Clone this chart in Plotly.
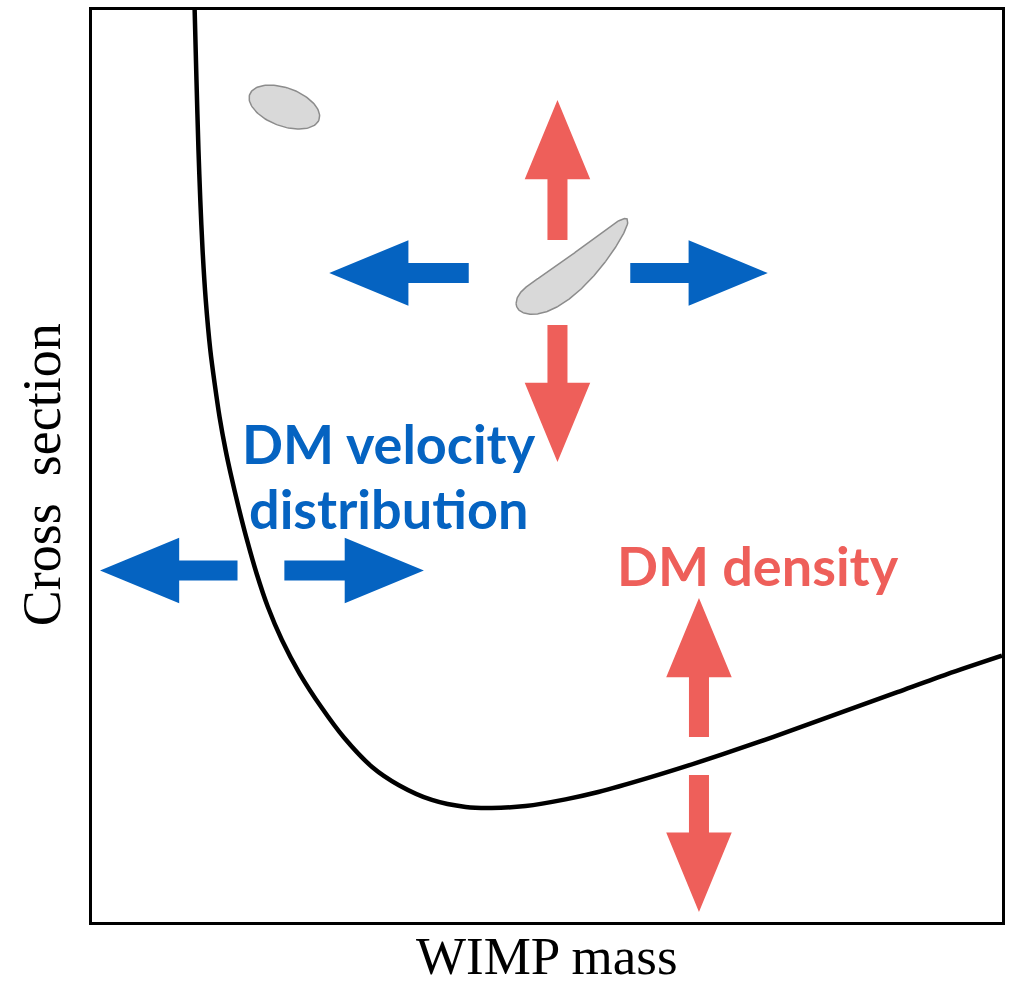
import numpy as np
import plotly.graph_objects as go

# ---- data (arbitrary units, 0-100 on both axes) ----
curve_x = [11.28, 11.48, 11.70, 11.90, 12.15, 12.50, 13.00, 13.47, 14.02, 14.68, 15.22,
           16.10, 17.03, 18.07, 19.33, 20.87, 22.78, 25.19, 27.71, 30.78, 33.73, 37.35,
           41.07, 43.92, 47.65, 52.03, 55.64, 61.12, 66.59, 72.07, 77.55, 83.02, 88.50,
           93.98, 100.0]
curve_y = [100.0, 92.32, 84.65, 79.17, 73.68, 68.20, 62.72, 59.10, 55.37, 51.75, 49.23,
           45.50, 41.89, 38.27, 34.54, 30.92, 27.30, 23.57, 20.20, 17.00, 15.00, 13.38,
           12.61, 12.50, 12.72, 13.45, 14.25, 15.80, 17.50, 19.33, 21.25, 23.22, 25.20,
           27.18, 29.20]

# arrows: (tail_x, tail_y, tip_x, tip_y)
blue_arrows = [
    (41.40, 71.16, 26.07, 71.16),
    (59.15, 71.16, 74.26, 71.16),
    (15.99, 38.54, 0.88, 38.54),
    (21.14, 38.54, 36.47, 38.54),
]
red_arrows = [
    (51.15, 74.78, 51.15, 90.13),
    (51.15, 65.46, 51.15, 50.44),
    (66.70, 20.29, 66.70, 35.53),
    (66.70, 16.12, 66.70, 1.10),
]

BLUE = "#0563C1"
RED = "#EE5F5A"
SHAFT_HW = 1.1
HEAD_HW = 3.6
HEAD_LEN = 8.7


def arrow_poly(tx, ty, hx, hy):
    d = np.array([hx - tx, hy - ty], float)
    L = np.hypot(*d)
    u = d / L
    n = np.array([-u[1], u[0]])
    t = np.array([tx, ty], float)
    h = np.array([hx, hy], float)
    b = h - u * HEAD_LEN
    pts = [t + n * SHAFT_HW, b + n * SHAFT_HW, b + n * HEAD_HW, h,
           b - n * HEAD_HW, b - n * SHAFT_HW, t - n * SHAFT_HW, t + n * SHAFT_HW]
    pts = np.array(pts)
    return pts[:, 0], pts[:, 1]


fig = go.Figure()

# blobs
# small ellipse top-left
cx, cy, a, b, ang = 21.14, 89.36, 4.05, 2.1, np.deg2rad(-20)
th = np.linspace(0, 2 * np.pi, 120)
ex = cx + a * np.cos(th) * np.cos(ang) - b * np.sin(th) * np.sin(ang)
ey = cy + a * np.cos(th) * np.sin(ang) + b * np.sin(th) * np.cos(ang)
fig.add_trace(go.Scatter(x=ex, y=ey, mode="lines", fill="toself", fillcolor="#D9D9D9",
                         line=dict(color="#8C8C8C", width=1.5), hoverinfo="skip"))

# banana-shaped blob
P0 = np.array([46.6, 67.8]); P1 = np.array([51.0, 68.0]); P2 = np.array([58.8, 77.1])
HW = 2.2
t = np.linspace(0, 1, 160)
cl = ((1 - t) ** 2)[:, None] * P0 + (2 * (1 - t) * t)[:, None] * P1 + (t ** 2)[:, None] * P2
dcl = (2 * (1 - t))[:, None] * (P1 - P0) + (2 * t)[:, None] * (P2 - P1)
nrm = np.stack([-dcl[:, 1], dcl[:, 0]], axis=1)
nrm /= np.linalg.norm(nrm, axis=1)[:, None]
w = HW * np.clip(1 - (2 * t - 1) ** 2, 0, 1) ** 0.5 * (1.0 - 0.3 * t)
upper = cl + nrm * w[:, None]
lower = cl - nrm * w[:, None]
bx = np.concatenate([upper[:, 0], lower[::-1, 0], upper[:1, 0]])
by = np.concatenate([upper[:, 1], lower[::-1, 1], upper[:1, 1]])
fig.add_trace(go.Scatter(x=bx, y=by, mode="lines", fill="toself", fillcolor="#D9D9D9",
                         line=dict(color="#8C8C8C", width=1.5), hoverinfo="skip"))

# exclusion curve
fig.add_trace(go.Scatter(x=curve_x, y=curve_y, mode="lines",
                         line=dict(color="black", width=4.5, shape="spline", smoothing=0.8),
                         hoverinfo="skip"))

for arr in blue_arrows:
    px, py = arrow_poly(*arr)
    fig.add_trace(go.Scatter(x=px, y=py, mode="lines", fill="toself", fillcolor=BLUE,
                             line=dict(width=0, color=BLUE), hoverinfo="skip"))
for arr in red_arrows:
    px, py = arrow_poly(*arr)
    fig.add_trace(go.Scatter(x=px, y=py, mode="lines", fill="toself", fillcolor=RED,
                             line=dict(width=0, color=RED), hoverinfo="skip"))

label_font = dict(family="Lato", size=54, color=BLUE)
fig.add_annotation(x=32.64, y=52.52, text="<b>DM velocity</b>", showarrow=False,
                   font=label_font, xanchor="center", yanchor="middle")
fig.add_annotation(x=32.53, y=45.29, text="<b>distribution</b>", showarrow=False,
                   font=label_font, xanchor="center", yanchor="middle")
fig.add_annotation(x=73.16, y=39.14, text="<b>DM density</b>", showarrow=False,
                   font=dict(family="Lato", size=54, color=RED), xanchor="center", yanchor="middle")

serif = dict(family="Liberation Serif", size=53, color="black")
fig.add_annotation(xref="paper", yref="paper", x=0.5, y=-0.037, text="WIMP mass",
                   showarrow=False, font=serif, xanchor="center", yanchor="middle")
fig.add_annotation(xref="paper", yref="paper", x=-0.0548, y=0.49, text="Cross  section",
                   showarrow=False, font=dict(family="Liberation Serif", size=54, color="black"),
                   textangle=-90, xanchor="center", yanchor="middle")

axis_common = dict(range=[0, 100], showgrid=False, zeroline=False, showticklabels=False,
                   ticks="", showline=True, linecolor="black", linewidth=2.5, mirror=True,
                   fixedrange=True)
fig.update_xaxes(**axis_common)
fig.update_yaxes(**axis_common)
fig.update_layout(width=1012, height=986, margin=dict(l=92, r=7, t=10, b=64),
                  paper_bgcolor="white", plot_bgcolor="white", showlegend=False)

fig.write_html("out.html")
